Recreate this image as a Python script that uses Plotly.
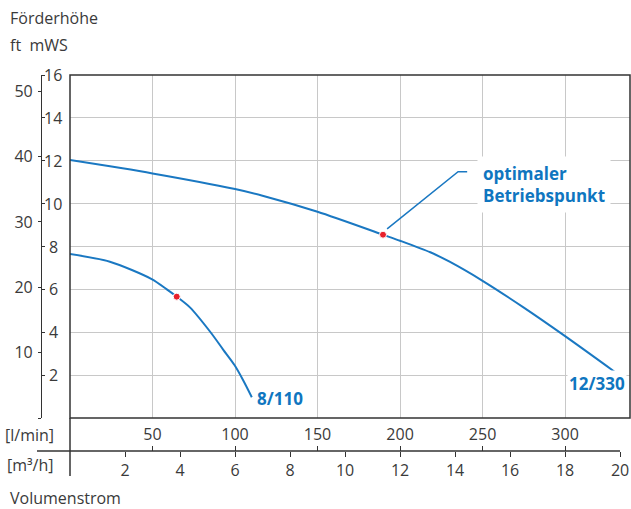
import plotly.graph_objects as go

W, H = 631, 509

# ---------------- data ----------------
flow_330 = [0, 3, 6, 7.0, 9, 11.38, 12, 13.1, 13.8, 15, 16.5, 18, 19.8]          # m3/h
head_330 = [12.03, 11.41, 10.68, 10.37, 9.62, 8.55, 8.27, 7.73, 7.29, 6.40, 5.15, 3.82, 2.16]  # m
flow_110 = [0, 1.45, 2.97, 3.52, 3.88, 4.36, 5.11, 5.58, 5.98, 6.3, 6.61]
head_110 = [7.65, 7.29, 6.48, 6.0, 5.66, 5.16, 4.0, 3.17, 2.47, 1.75, 0.97]
op_flow = [3.88, 11.38]
op_head = [5.66, 8.55]
leader_flow = [11.53, 14.11, 14.44]
leader_head = [8.82, 11.49, 11.49]
curve_labels = ["8/110", "12/330"]
curve_label_flow = [7.62, 19.16]
curve_label_head = [0.93, 1.59]
note_text = "optimaler<br>Betriebspunkt"
note_flow = 14.8
note_head = 10.89

lmin_ticks = [50, 100, 150, 200, 250, 300]
m3h_ticks = [2, 4, 6, 8, 10, 12, 14, 16, 18, 20]
mws_ticks = [2, 4, 6, 8, 10, 12, 14, 16]
ft_ticks = [0, 10, 20, 30, 40, 50]
ft_text = ["", "10", "20", "30", "40", "50"]

X_MAX = 20.36
Y_MAX = 16
LPM_PER_M3H = 1000 / 60
FT_PER_M = 1 / 0.3048

BLUE = "#1a78c2"
TBLUE = "#0f76c0"
RED = "#e8212b"
GRID = "#c8c8c8"
AX = "#333333"
TXT = "#3a3a3a"
FONT = "Open Sans"


def px(x):
    return x / W


def py(y):
    return (H - y) / H


fig = go.Figure()
fig.add_trace(go.Scatter(x=flow_330, y=head_330, mode="lines",
                         line=dict(color=BLUE, width=2, shape="spline", smoothing=0.8),
                         hoverinfo="skip", showlegend=False))
fig.add_trace(go.Scatter(x=flow_110, y=head_110, mode="lines",
                         line=dict(color=BLUE, width=2, shape="spline", smoothing=0.8),
                         hoverinfo="skip", showlegend=False))
fig.add_trace(go.Scatter(x=leader_flow, y=leader_head, mode="lines",
                         line=dict(color=BLUE, width=1.5),
                         hoverinfo="skip", showlegend=False))
fig.add_trace(go.Scatter(x=op_flow, y=op_head, mode="markers",
                         marker=dict(color=RED, size=7, line=dict(width=1, color="white")),
                         hoverinfo="skip", showlegend=False))
# placeholder traces so the secondary axes exist
fig.add_trace(go.Scatter(x=[None], y=[None], xaxis="x2", yaxis="y", showlegend=False, hoverinfo="skip"))
fig.add_trace(go.Scatter(x=[None], y=[None], xaxis="x", yaxis="y2", showlegend=False, hoverinfo="skip"))

tickfont = dict(family=FONT, size=16, color=TXT)

fig.update_layout(
    width=W, height=H,
    margin=dict(l=0, r=0, t=0, b=0),
    paper_bgcolor="white", plot_bgcolor="white",
    showlegend=False,
    font=dict(family=FONT, size=16, color=TXT),
    xaxis=dict(domain=[px(70), px(630)], range=[0, X_MAX], anchor="free", position=py(451),
               tickvals=m3h_ticks, ticks="outside", ticklen=5, tickcolor=AX, tickwidth=1,
               showline=False, showgrid=False, zeroline=False, tickfont=tickfont,
               ticklabelstandoff=0, fixedrange=True),
    xaxis2=dict(overlaying="x", range=[0, X_MAX * LPM_PER_M3H], anchor="free", position=py(451),
                side="top", tickvals=lmin_ticks, ticks="outside", ticklen=5, tickcolor=AX,
                tickwidth=1, showline=False, showgrid=True, gridcolor=GRID, gridwidth=1,
                zeroline=False, tickfont=tickfont, ticklabelstandoff=0, fixedrange=True),
    yaxis=dict(domain=[py(418), py(75)], range=[0, Y_MAX], anchor="free", position=px(41),
               side="right", tickvals=mws_ticks, ticks="outside", ticklen=3, tickcolor=AX,
               showticklabels=False, showline=False, showgrid=True, gridcolor=GRID,
               gridwidth=1, zeroline=False, fixedrange=True),
    yaxis2=dict(overlaying="y", range=[0, Y_MAX * FT_PER_M], anchor="free", position=px(41),
                side="left", tickvals=ft_ticks, ticktext=ft_text, ticks="outside", ticklen=3,
                tickcolor=AX, showline=True, linecolor=AX, linewidth=1.2, showgrid=False,
                zeroline=False, tickfont=tickfont, ticklabelstandoff=2, fixedrange=True),
)

shapes = [
    dict(type="rect", xref="x domain", yref="y domain", x0=0, x1=1, y0=0, y1=1,
         line=dict(color=AX, width=1.5), layer="above"),
    dict(type="line", xref="x domain", yref="paper", x0=0, x1=0, y0=py(476), y1=py(418),
         line=dict(color=AX, width=1.5)),
    dict(type="line", xref="paper", yref="paper", x0=px(37), x1=px(620), y0=py(451), y1=py(451),
         line=dict(color=AX, width=1.5)),
]
fig.update_layout(shapes=shapes)

ann = []
for v in mws_ticks:
    ann.append(dict(xref="paper", yref="y", x=px(53), y=v, text=str(v), showarrow=False,
                    xanchor="center", yanchor="middle", font=tickfont))
ann += [
    dict(xref="paper", yref="paper", x=px(8), y=py(18), text="Förderhöhe", showarrow=False,
         xanchor="left", yanchor="middle", font=dict(family=FONT, size=16, color=TXT)),
    dict(xref="paper", yref="paper", x=px(8), y=py(45), text="ft  mWS", showarrow=False,
         xanchor="left", yanchor="middle", font=dict(family=FONT, size=16, color=TXT)),
    dict(xref="paper", yref="paper", x=px(8), y=py(498), text="Volumenstrom", showarrow=False,
         xanchor="left", yanchor="middle", font=dict(family=FONT, size=16, color=TXT)),
    dict(xref="paper", yref="paper", x=px(56), y=py(435), text="[l/min]", showarrow=False,
         xanchor="right", yanchor="middle", font=dict(family=FONT, size=16, color=TXT)),
    dict(xref="paper", yref="paper", x=px(56), y=py(465), text="[m³/h]", showarrow=False,
         xanchor="right", yanchor="middle", font=dict(family=FONT, size=16, color=TXT)),
    dict(xref="x", yref="y", x=note_flow, y=note_head, text="<b>" + note_text.replace("<br>", "</b><br><b>") + "</b>",
         showarrow=False, xanchor="left", yanchor="middle", align="left", bgcolor="white",
         borderpad=5, font=dict(family=FONT, size=17, color=TBLUE)),
]
for lab, fx, hy in zip(curve_labels, curve_label_flow, curve_label_head):
    ann.append(dict(xref="x", yref="y", x=fx, y=hy, text="<b>" + lab + "</b>", showarrow=False,
                    xanchor="center", yanchor="middle", bgcolor="white", borderpad=1,
                    font=dict(family=FONT, size=17, color=TBLUE)))
fig.update_layout(annotations=ann)

fig.write_html("out.html", config=dict(displayModeBar=False),
               post_script="document.body.style.margin='0';document.body.style.padding='0';document.body.style.overflow='hidden';")
